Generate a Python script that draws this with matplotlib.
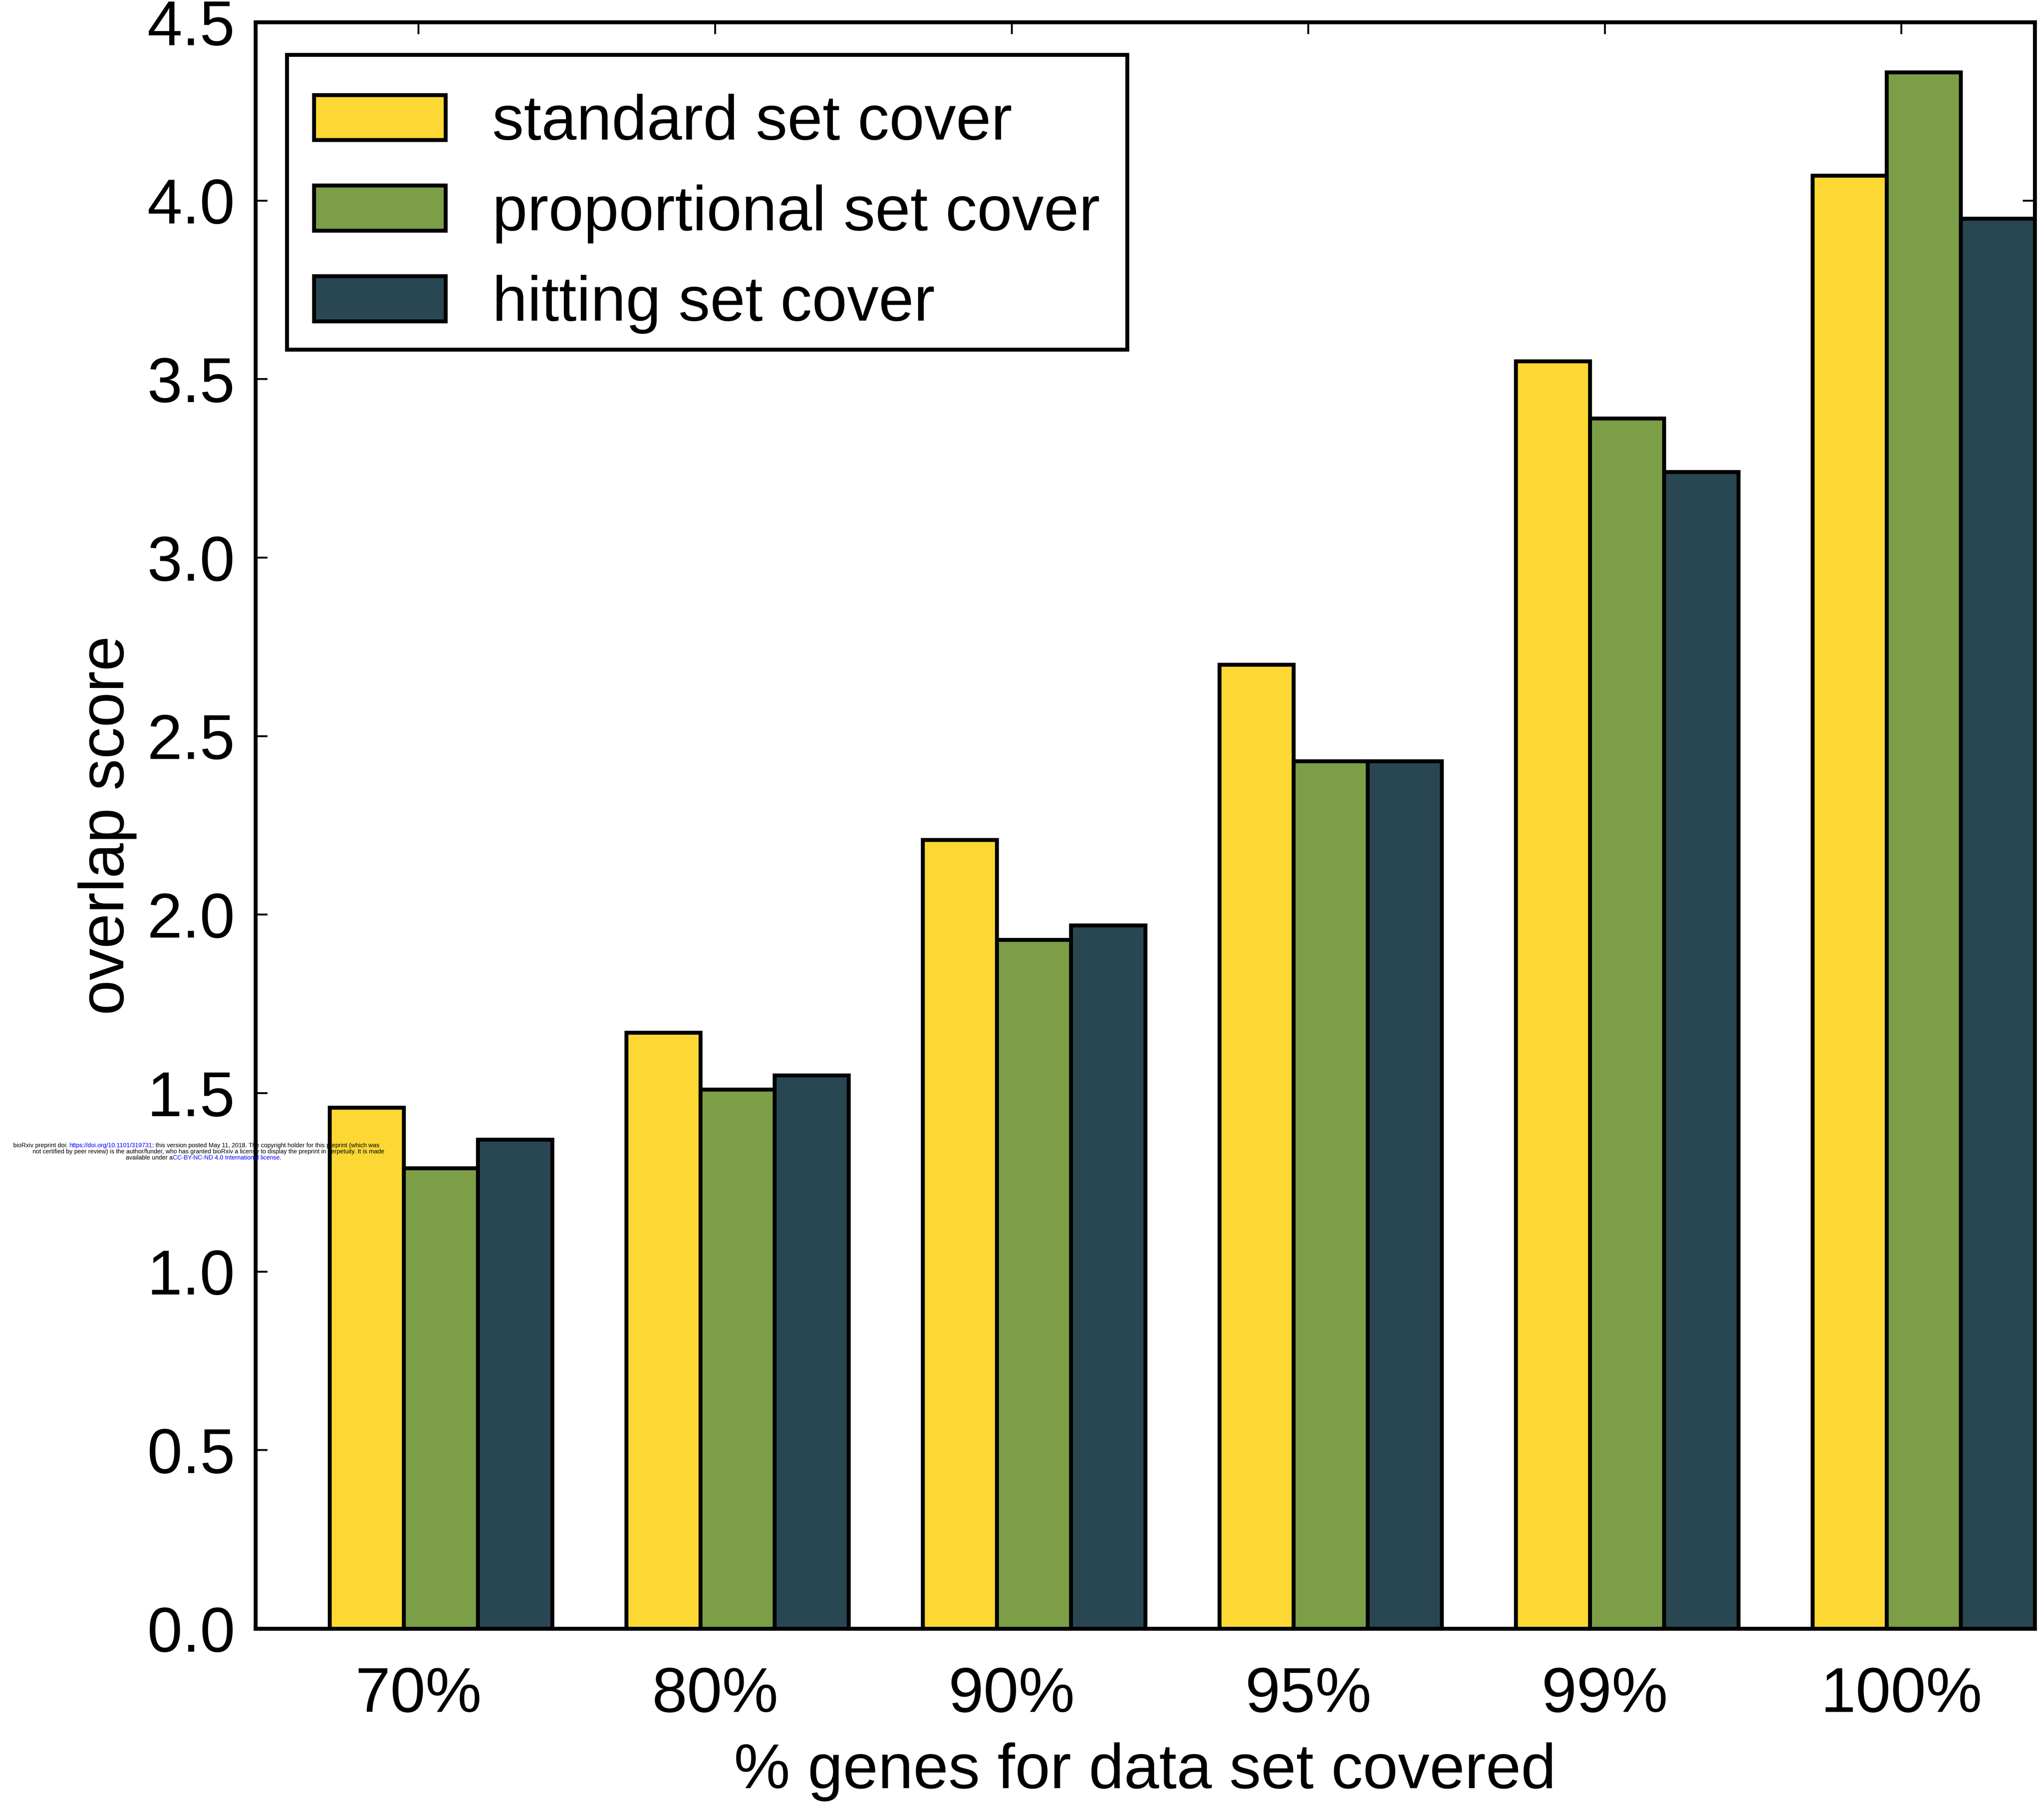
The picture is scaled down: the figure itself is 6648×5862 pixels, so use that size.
import numpy as np
import matplotlib
matplotlib.use("Agg")
import matplotlib.pyplot as plt
from matplotlib.path import Path

plt.rcParams['font.family'] = ['Liberation Sans', 'DejaVu Sans']

coverage = ['70%', '80%', '90%', '95%', '99%', '100%']
standard = [1.46, 1.67, 2.21, 2.70, 3.55, 4.07]
proportional = [1.29, 1.51, 1.93, 2.43, 3.39, 4.36]
hitting = [1.37, 1.55, 1.97, 2.43, 3.24, 3.95]
series_names = ['standard set cover', 'proportional set cover', 'hitting set cover']
colors = ['#FDD835', '#7C9E47', '#294752']

fig = plt.figure(figsize=(16.62, 14.655), dpi=400)
ax = fig.add_axes([0.125, 0.0962, 0.8705, 0.8915])

ind = np.arange(len(coverage))
w = 0.25
lw = 2.3
for k, vals in enumerate([standard, proportional, hitting]):
    ax.bar(ind + k * w, vals, w, align='edge', color=colors[k],
           edgecolor='black', linewidth=lw, label=series_names[k], zorder=2)

ax.set_xlim(-0.25, len(coverage) - 0.25)
ax.set_ylim(0, 4.5)
ax.set_xticks(ind + 0.3)
ax.set_xticklabels(coverage)
yt = np.arange(0, 4.51, 0.5)
ax.set_yticks(yt)
ax.set_yticklabels(['%.1f' % v for v in yt])

for s in ax.spines.values():
    s.set_linewidth(lw)
    s.set_zorder(3)
ax.tick_params(direction='in', top=True, right=True, length=7, width=1.1,
               labelsize=37)
ax.tick_params(axis='x', pad=22)
ax.tick_params(axis='y', pad=12)

ax.set_xlabel('% genes for data set covered', fontsize=37, labelpad=10)
ax.set_ylabel('overlap score', fontsize=37, labelpad=6)


def legend_frame(x0, y0, width, height, mutation_size):
    # square frame, raised a little so the rows sit lower inside it
    d = 0.185 * mutation_size
    x1, y1 = x0 + width, y0 + height + d
    y0 = y0 + d
    return Path([(x0, y0), (x1, y0), (x1, y1), (x0, y1), (x0, y0)],
                [Path.MOVETO, Path.LINETO, Path.LINETO, Path.LINETO,
                 Path.CLOSEPOLY])


leg = ax.legend(loc='upper left', bbox_to_anchor=(0.0176, 0.9724),
                borderaxespad=0, fontsize=37, handlelength=2.08,
                handleheight=0.72, handletextpad=0.74, labelspacing=0.5,
                borderpad=0.43, fancybox=False, framealpha=1)
leg.get_frame().set_boxstyle(legend_frame)
leg.get_frame().set_edgecolor('black')
leg.get_frame().set_linewidth(lw)

# preprint notice; coloured pieces are chained onto the end of the previous one
fs = 3.6
kw = dict(fontsize=fs, ha='left', zorder=10)
chain = dict(xy=(1, 0), va='bottom', annotation_clip=False, **kw)
t1 = fig.text(0.0065, 0.3634, 'bioRxiv preprint doi: ', va='baseline', **kw)
t1b = ax.annotate('https://doi.org/10.1101/319731', xycoords=t1,
                  color='blue', **chain)
ax.annotate('; this version posted May 11, 2018. The copyright holder for this preprint (which was',
            xycoords=t1b, **chain)
fig.text(0.102, 0.3600,
         'not certified by peer review) is the author/funder, who has granted bioRxiv a license to display the preprint in perpetuity. It is made',
         fontsize=fs, ha='center', va='baseline', zorder=10)
t3 = fig.text(0.0615, 0.3566, 'available under a', va='baseline', **kw)
t3b = ax.annotate('CC-BY-NC-ND 4.0 International license', xycoords=t3,
                  color='blue', **chain)
ax.annotate('.', xycoords=t3b, **chain)

fig.savefig('out.png', dpi=400)
